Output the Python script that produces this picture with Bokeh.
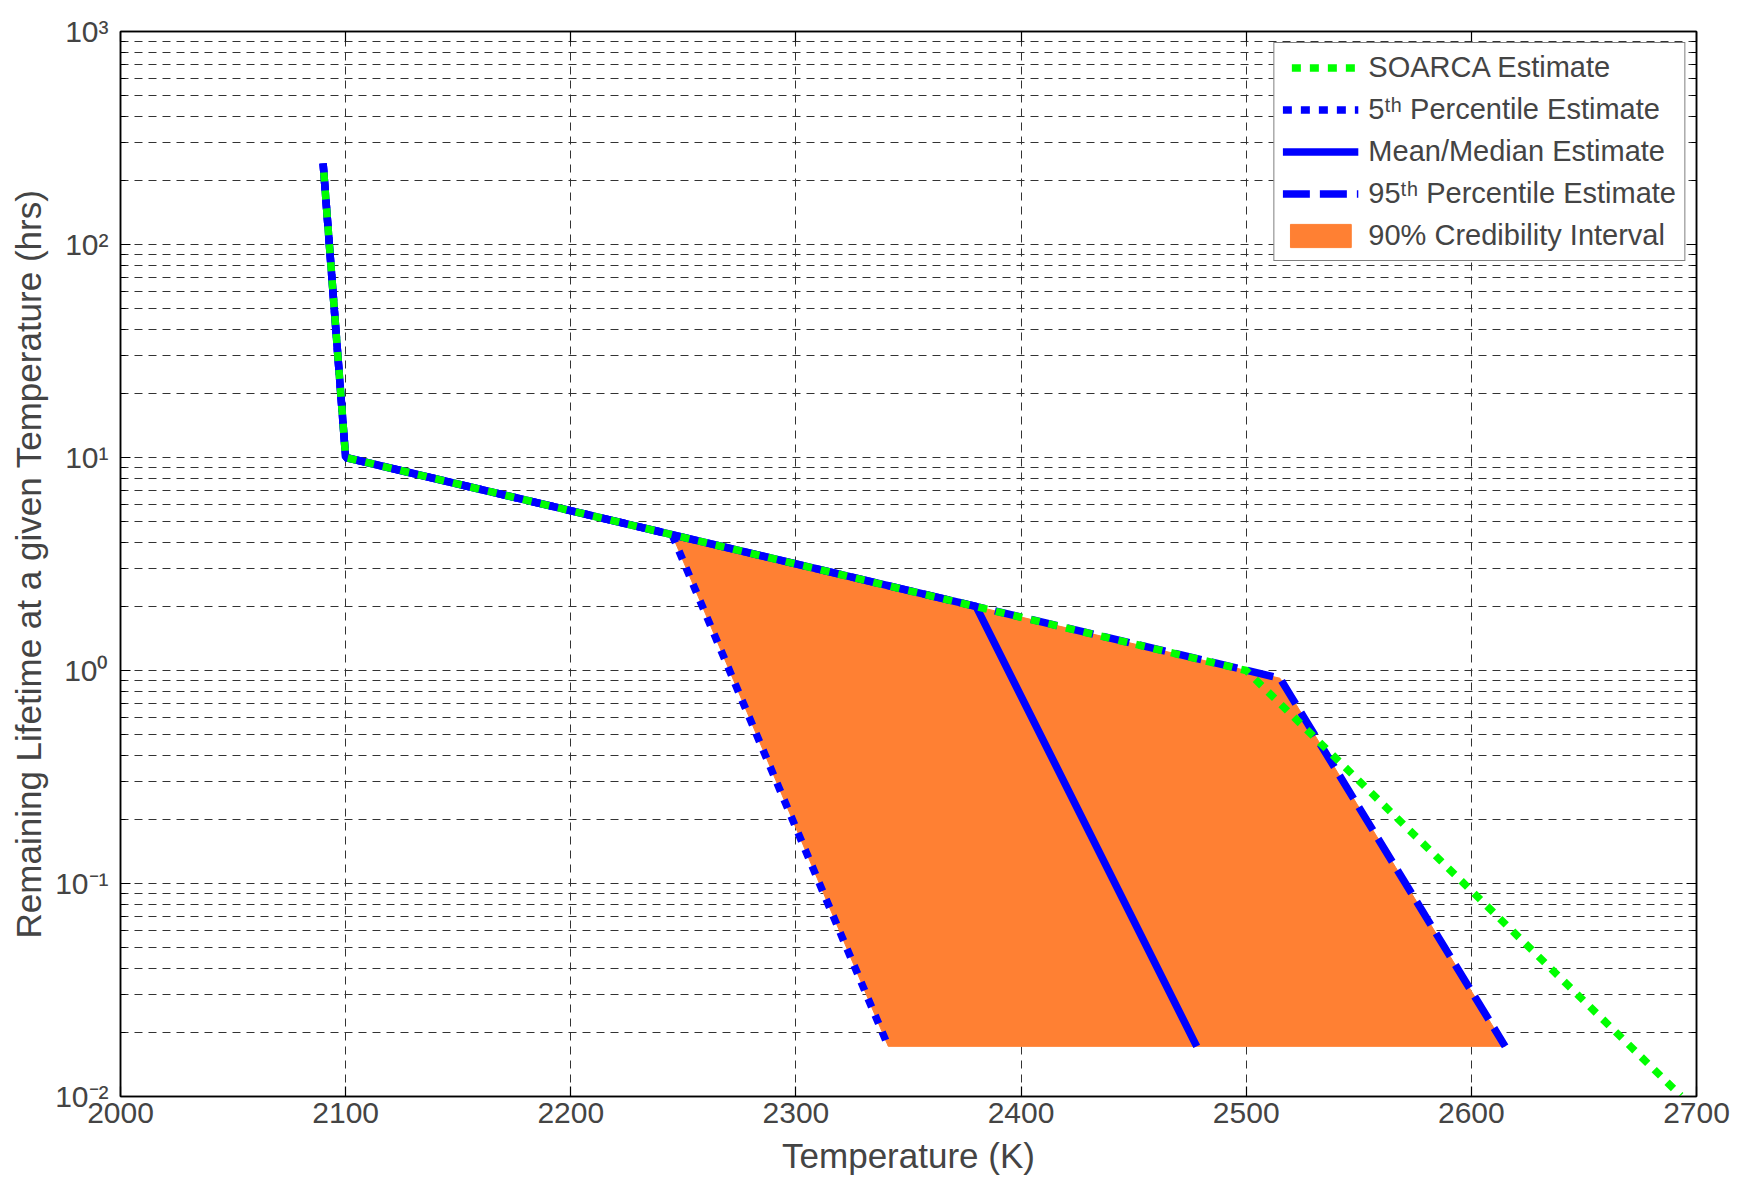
from bokeh.plotting import figure
from bokeh.models import (FixedTicker, LinearAxis, LogAxis, Legend, LegendItem,
                          CustomJSTickFormatter, Range1d)
from bokeh.embed import file_html
from bokeh.resources import INLINE

# ---- data ----
soarca_T = [2090, 2100, 2500, 2693]
soarca_L = [240, 10, 1.0, 0.0101]

p5_T = [2090, 2100, 2245, 2341]
p5_L = [240, 10, 4.34, 0.0172]

mean_T = [2090, 2100, 2380, 2478]
mean_L = [240, 10, 2.0, 0.0172]

p95_T = [2090, 2100, 2515, 2615]
p95_L = [240, 10, 0.92, 0.0172]

ci_T = [2245, 2380, 2500, 2515, 2615, 2341]
ci_L = [4.34, 2.0, 1.0, 0.92, 0.0172, 0.0172]

x_ticks = [2000, 2100, 2200, 2300, 2400, 2500, 2600, 2700]
y_ticks = [0.01, 0.1, 1, 10, 100, 1000]
y_minor = [m * d for d in [0.01, 0.1, 1, 10, 100] for m in range(2, 10)]

FONT = "Liberation Sans"
GREEN = "#00FF00"
BLUE = "#0000FF"
ORANGE = "#FF8033"
GRID = "#333333"

p = figure(width=1740, height=1178,
           x_range=Range1d(2000, 2700), y_range=Range1d(0.01, 1000),
           y_axis_type="log", output_backend="svg", toolbar_location=None,
           min_border_left=120, min_border_right=44,
           min_border_top=31, min_border_bottom=82,
           background_fill_color="white", border_fill_color="white")

p.outline_line_color = "black"
p.outline_line_width = 1.5

xt = FixedTicker(ticks=x_ticks)
yt = FixedTicker(ticks=y_ticks, minor_ticks=y_minor)

sup_js = """
const m = {'-':'\\u207B','0':'\\u2070','1':'\\u00B9','2':'\\u00B2','3':'\\u00B3',
           '4':'\\u2074','5':'\\u2075','6':'\\u2076','7':'\\u2077','8':'\\u2078','9':'\\u2079'};
const e = Math.round(Math.log10(tick));
return '10' + String(e).split('').map(c => m[c]).join('');
"""

# x axis
xa = p.xaxis[0]
xa.ticker = xt
xa.axis_label = "Temperature (K)"
xa.axis_label_text_font = FONT
xa.axis_label_text_font_size = "35px"
xa.axis_label_text_font_style = "normal"
xa.axis_label_standoff = 10
xa.major_label_text_font = FONT
xa.major_label_text_font_size = "30px"
xa.major_label_standoff = 6
xa.major_tick_in = 10
xa.major_tick_out = 0
xa.minor_tick_line_color = None
xa.axis_line_width = 1.5
xa.major_tick_line_width = 1.2

# y axis
ya = p.yaxis[0]
ya.ticker = yt
ya.formatter = CustomJSTickFormatter(code=sup_js)
ya.axis_label = "Remaining Lifetime at a given Temperature (hrs)"
ya.axis_label_text_font = FONT
ya.axis_label_text_font_size = "35px"
ya.axis_label_text_font_style = "normal"
ya.axis_label_standoff = 4
ya.major_label_text_font = FONT
ya.major_label_text_font_size = "30px"
ya.major_label_standoff = 12
ya.major_tick_in = 10
ya.major_tick_out = 0
ya.minor_tick_in = 5
ya.minor_tick_out = 0
ya.axis_line_width = 1.5
ya.major_tick_line_width = 1.2

# mirrored axes (ticks only, labels hidden)
top = LinearAxis(ticker=xt, major_label_text_font_size="1px", major_label_text_alpha=0,
                 major_label_standoff=0,
                 major_tick_in=10, major_tick_out=0, minor_tick_line_color=None,
                 axis_line_width=1.5, major_tick_line_width=1.2)
right = LogAxis(ticker=yt, major_label_text_font_size="1px", major_label_text_alpha=0,
                major_label_standoff=0,
                major_tick_in=10, major_tick_out=0, minor_tick_in=5, minor_tick_out=0,
                axis_line_width=1.5, major_tick_line_width=1.2)
p.add_layout(top, "above")
p.add_layout(right, "right")

# grids
p.xgrid.ticker = xt
p.xgrid.grid_line_color = GRID
p.xgrid.grid_line_dash = "8 6"
p.xgrid.grid_line_width = 1
p.ygrid.ticker = yt
p.ygrid.grid_line_color = GRID
p.ygrid.grid_line_dash = "8 6"
p.ygrid.grid_line_width = 1
p.ygrid.minor_grid_line_color = GRID
p.ygrid.minor_grid_line_dash = "8 6"
p.ygrid.minor_grid_line_width = 1

# glyphs
r_ci = p.patch(ci_T, ci_L, fill_color=ORANGE, line_color=ORANGE, line_width=1)
r_95 = p.line(p95_T, p95_L, line_color=BLUE, line_width=7.5, line_dash="27 10")
r_mean = p.line(mean_T, mean_L, line_color=BLUE, line_width=7.5)
r_5 = p.line(p5_T, p5_L, line_color=BLUE, line_width=7.5, line_dash="9 9")
r_so = p.line(soarca_T, soarca_L, line_color=GREEN, line_width=7.5, line_dash="9 9",
              line_dash_offset=9)

legend = Legend(items=[
    LegendItem(label="SOARCA Estimate", renderers=[r_so]),
    LegendItem(label="5\u1D57\u02B0 Percentile Estimate", renderers=[r_5]),
    LegendItem(label="Mean/Median Estimate", renderers=[r_mean]),
    LegendItem(label="95\u1D57\u02B0 Percentile Estimate", renderers=[r_95]),
    LegendItem(label="90% Credibility Interval", renderers=[r_ci]),
], location="top_right")
legend.label_text_font = FONT
legend.label_text_font_size = "29px"
legend.glyph_width = 76
legend.glyph_height = 29
legend.label_height = 29
legend.label_standoff = 10
legend.spacing = 9
legend.padding = 8
legend.margin = 11
legend.border_line_color = "black"
legend.border_line_width = 1.2
legend.background_fill_color = "white"
legend.background_fill_alpha = 1
p.add_layout(legend)

open("out.html", "w").write(file_html(p, INLINE))
